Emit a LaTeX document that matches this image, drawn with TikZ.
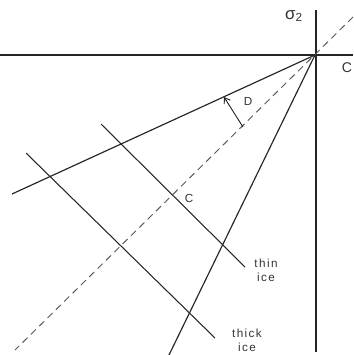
\documentclass[tikz,border=0pt]{standalone}
\usepackage{fontspec}
\setmainfont{Liberation Sans}
\newfontfamily\lblfont[LetterSpace=12]{Liberation Sans}
\usetikzlibrary{arrows.meta}
\tikzset{
  axis/.style={line width=0.9pt, black!85},
  stressline/.style={line width=1pt, black!85},
  iceline/.style={line width=0.9pt, black!85},
  diag/.style={line width=0.8pt, black!65, dash pattern=on 6pt off 4pt},
  turn/.style={-{Straight Barb[length=1.6mm,width=2.2mm]}, line width=0.8pt, black!85},
  lbl/.style={font=\lblfont\normalsize, align=center, inner sep=0pt, black!80}
}
\begin{document}
\begin{tikzpicture}[x=0.03cm, y=-0.03cm]
  \useasboundingbox (0,0) rectangle (353,355);
  % axes
  \coordinate (O) at (315,55);
  \draw[axis] (0,55) -- (353,55);
  \draw[axis] (316,10) -- (316,352);
  % diagonal and the two stress lines
  \coordinate (dNE) at (353,17);
  \coordinate (dSW) at (15,350);
  \draw[diag] (dNE) -- (dSW);
  \coordinate (lowEnd) at (12,194);
  \coordinate (steepEnd) at (169,355);
  \draw[stressline] (O) -- (lowEnd);
  \draw[stressline] (O) -- (steepEnd);
  % ice lines
  \coordinate (thinA) at (101,124);
  \coordinate (thinB) at (245,267);
  \coordinate (thickA) at (26,153);
  \coordinate (thickB) at (215,338);
  \draw[iceline] (thinA) -- (thinB);
  \draw[iceline] (thickA) -- (thickB);
  % rotation D
  \coordinate (dFoot) at (243,127);
  \coordinate (dTip) at (224,97);
  \draw[turn] (dFoot) -- (dTip);
  % labels
  \node[lbl] (labD) at (248,101) {D};
  \node[lbl] (labC) at (189,198) {C};
  \node[lbl] (labThin) at (266,270) {thin\\ice};
  \node[lbl] (labThick) at (247,340) {thick\\ice};
  \node[lbl, font=\Large] (labS2) at (294,16) {σ\textsubscript{2}};
  \node[lbl, font=\large] (labS1) at (347,68) {C};
\end{tikzpicture}
\end{document}
